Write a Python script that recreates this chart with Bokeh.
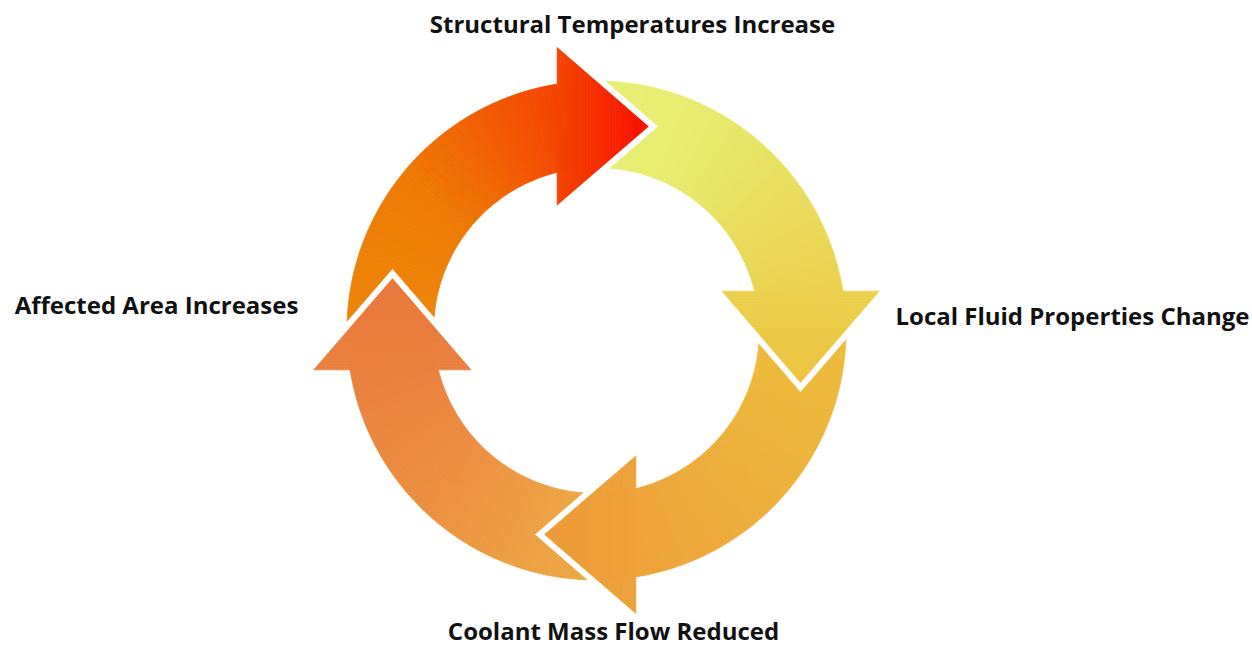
import numpy as np
from bokeh.plotting import figure
from bokeh.models import Range1d
from bokeh.core.properties import value
from bokeh.embed import file_html
from bokeh.resources import INLINE

# ---------------- data ----------------
stages = ["Structural Temperatures Increase",
          "Local Fluid Properties Change",
          "Coolant Mass Flow Reduced",
          "Affected Area Increases"]
# colour stops of each arrow's gradient (tail -> head)
grad_top = [(0.0, "#EB900C"), (0.3, "#EE7804"), (0.7, "#F44400"), (1.0, "#F80E00")]
grad_right = [(0.0, "#E6F77C"), (0.45, "#EADC5C"), (0.75, "#ECCE4A"), (1.0, "#EDC23E")]
grad_bottom = [(0.0, "#EEBE3C"), (0.5, "#EEAC3A"), (1.0, "#EE9838")]
grad_left = [(0.0, "#EDB046"), (0.45, "#EC8E40"), (1.0, "#E9773D")]

# ---------------- layout ----------------
W, H = 1252, 647
CX, CY = 596.0, H - 330.0
R_IN, R_OUT = 163.0, 249.5
BASE_X = -39.3                       # canonical (top) head base line
BASE_Y0, BASE_Y1 = 125.0, 283.3
TIP = (52.3, 204.0)
GAP = 6.0
# gradient axes in image pixel coordinates (start, end)
grad_axes = [((343, 330), (650, 330)),
             ((700, 78), (700, 392)),
             ((845, 360), (535, 560)),
             ((580, 590), (380, 270))]
grads = [grad_top, grad_right, grad_bottom, grad_left]
label_pos = [(632, 32), (1072, 324), (613, 639), (156, 313)]  # image px, baseline
TEXT_SHIFT = 9  # compensates the renderer's baseline placement


def hex2rgb(h):
    h = h.lstrip("#")
    return np.array([int(h[i:i + 2], 16) for i in (0, 2, 4)], float)


def colour_at(stops, t):
    t = min(max(t, 0.0), 1.0)
    for (t0, c0), (t1, c1) in zip(stops[:-1], stops[1:]):
        if t <= t1:
            f = 0 if t1 == t0 else (t - t0) / (t1 - t0)
            c = hex2rgb(c0) * (1 - f) + hex2rgb(c1) * f
            return "#%02x%02x%02x" % tuple(int(round(v)) for v in c)
    return stops[-1][1]


def rot(pt, k):
    # rotate clockwise by 90*k degrees about the centre (relative coords)
    x, y = pt
    for _ in range(k % 4):
        x, y = y, -x
    return (x, y)


def grad_t(k, px, py):
    (x0, y0), (x1, y1) = grad_axes[k]
    y0, y1 = H - y0, H - y1
    dx, dy = x1 - x0, y1 - y0
    return ((px - x0) * dx + (py - y0) * dy) / (dx * dx + dy * dy)


a_base = np.degrees(np.arccos(BASE_X / R_OUT))   # ~99 deg

body_xs, body_ys, body_c = [], [], []
head_xs, head_ys, head_c = [], [], []
wl_xs, wl_ys = [], []

NB, NH = 90, 30
for k in range(4):
    start = a_base + 90 - 90 * k
    end = a_base - 1.5 - 90 * k
    angs = np.linspace(start, end, NB + 1)
    for a0, a1 in zip(angs[:-1], angs[1:]):
        aa = np.radians([a0, a1])
        xs = list(CX + R_OUT * np.cos(aa)) + list(CX + R_IN * np.cos(aa[::-1]))
        ys = list(CY + R_OUT * np.sin(aa)) + list(CY + R_IN * np.sin(aa[::-1]))
        body_xs.append(xs)
        body_ys.append(ys)
        body_c.append(colour_at(grads[k], grad_t(k, np.mean(xs), np.mean(ys))))

    A = np.array(rot((BASE_X, BASE_Y1), k))
    B = np.array(rot((BASE_X, BASE_Y0), k))
    T = np.array(rot(TIP, k))
    for j in range(NH):
        t0, t1 = j / NH, (j + 1) / NH
        pts = [A + (T - A) * t0, A + (T - A) * t1, B + (T - B) * t1, B + (T - B) * t0]
        xs = [CX + q[0] for q in pts]
        ys = [CY + q[1] for q in pts]
        head_xs.append(xs)
        head_ys.append(ys)
        head_c.append(colour_at(grads[k], grad_t(k, np.mean(xs), np.mean(ys))))

    # white separating line along the slanted head edges, offset outward
    C = (A + B + T) / 3.0

    def off(P, Q):
        d = Q - P
        n = np.array([-d[1], d[0]]) / np.hypot(*d)
        if np.dot(n, (P + Q) / 2 - C) < 0:
            n = -n
        return P + n * GAP / 2, Q + n * GAP / 2

    A1, T1 = off(A, T)
    B1, T2 = off(B, T)
    d1, d2 = T1 - A1, T2 - B1
    M = np.array([d1, -d2]).T
    s = np.linalg.solve(M, B1 - A1)
    Ti = A1 + d1 * s[0]
    line = [A1 - d1 * 0.02, Ti, B1 - d2 * 0.02]
    wl_xs.append([CX + q[0] for q in line])
    wl_ys.append([CY + q[1] for q in line])

p = figure(width=W, height=H, x_range=Range1d(0, W), y_range=Range1d(0, H),
           output_backend="svg", toolbar_location=None, x_axis_type=None, y_axis_type=None,
           min_border=0, background_fill_color="white", border_fill_color="white")
p.outline_line_color = None
p.grid.visible = False

p.patches(body_xs, body_ys, fill_color=body_c, line_color=body_c, line_width=0.8)
p.patches(head_xs, head_ys, fill_color=head_c, line_color=head_c, line_width=0.8)
p.multi_line(wl_xs, wl_ys, line_color="white", line_width=GAP, line_join="miter")

p.text(x=[q[0] for q in label_pos], y=[H - q[1] + TEXT_SHIFT for q in label_pos], text=stages,
       text_font=value("Open Sans"), text_font_style="bold", text_font_size="24px",
       text_align="center", text_baseline="alphabetic", text_color="#111111")

open("out.html", "w").write(file_html(p, INLINE))
